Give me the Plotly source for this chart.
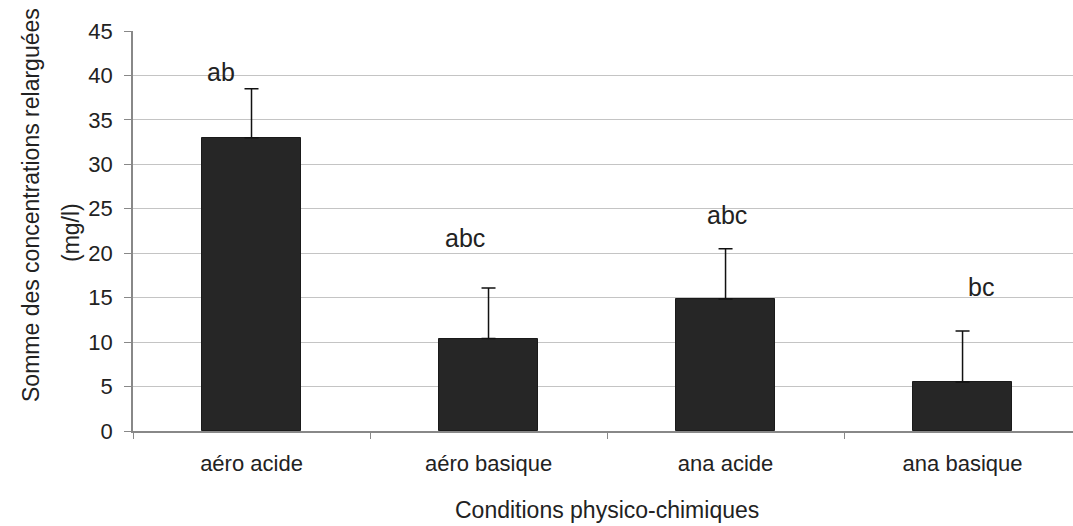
import plotly.graph_objects as go

categories = ["aéro acide", "aéro basique", "ana acide", "ana basique"]
means = [33.0, 10.4, 14.85, 5.5]
errors_plus = [5.5, 5.7, 5.65, 5.75]
letters = ["ab", "abc", "abc", "bc"]
letter_y = [40.4, 21.7, 24.3, 16.2]
y_ticks = [0, 5, 10, 15, 20, 25, 30, 35, 40, 45]

letter_xshift = [-31, -24, 1, 18]

FONT = "Liberation Sans, Arial, sans-serif"

fig = go.Figure()
fig.add_trace(go.Bar(
    x=categories, y=means, width=0.42,
    marker=dict(color="#262626", line=dict(color="#1a1a1a", width=1)),
    error_y=dict(type="data", symmetric=False, array=errors_plus,
                 arrayminus=[0] * len(means), color="#111111",
                 thickness=1.5, width=7),
))

for c, t, yv, xs in zip(categories, letters, letter_y, letter_xshift):
    fig.add_annotation(x=c, y=yv, text=t, showarrow=False, xshift=xs,
                       xanchor="center", yanchor="middle",
                       font=dict(family=FONT, size=25, color="#222222"))

fig.add_annotation(xref="paper", yref="paper", x=(31 - 133) / 940, y=0.565,
                   text="Somme des concentrations relarguées", textangle=-90,
                   showarrow=False, xanchor="center", yanchor="middle",
                   font=dict(family=FONT, size=23, color="#222222"))
fig.add_annotation(xref="paper", yref="paper", x=(71 - 133) / 940, y=0.495,
                   text="(mg/l)", textangle=-90,
                   showarrow=False, xanchor="center", yanchor="middle",
                   font=dict(family=FONT, size=23, color="#222222"))
fig.add_annotation(xref="paper", yref="paper", x=(607 - 133) / 940, y=-0.1975,
                   text="Conditions physico-chimiques",
                   showarrow=False, xanchor="center", yanchor="middle",
                   font=dict(family=FONT, size=23, color="#222222"))

fig.update_layout(
    width=1073, height=526,
    margin=dict(l=133, r=0, t=31, b=95),
    paper_bgcolor="white", plot_bgcolor="white",
    showlegend=False,
    bargap=0,
    xaxis=dict(range=[-0.5, 3.466], tickson="boundaries", ticks="outside",
               ticklen=6, tickcolor="#888888", showline=True,
               linecolor="#888888", linewidth=1.5, showgrid=False,
               ticklabelstandoff=12,
               tickfont=dict(family=FONT, size=22, color="#222222")),
    yaxis=dict(range=[0, 45], tickvals=y_ticks, ticks="outside", ticklen=7,
               tickcolor="#888888", showline=True, linecolor="#888888",
               linewidth=1.5, showgrid=True, gridcolor="#c4c4c4", gridwidth=1,
               zeroline=False, ticklabelstandoff=7,
               tickfont=dict(family=FONT, size=22, color="#222222")),
)

fig.write_html("out.html")
